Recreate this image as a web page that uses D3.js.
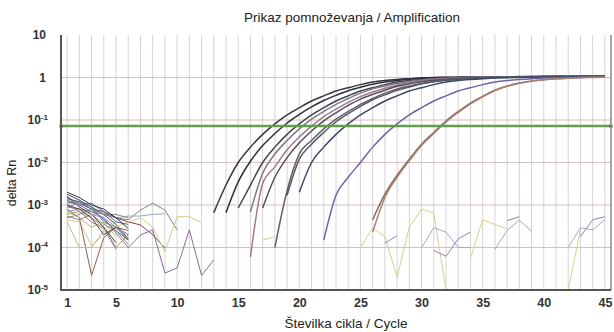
<!DOCTYPE html>
<html>
<head>
<meta charset="utf-8">
<script src="https://cdn.jsdelivr.net/npm/d3@7"></script>
<style>
  html, body { margin: 0; padding: 0; background: #fff; }
  svg { display: block; font-family: "Liberation Sans", Arial, sans-serif; }
</style>
</head>
<body>
<svg id="chart" width="614" height="332"></svg>
<script>
// ---- Data -------------------------------------------------------------
const title = "Prikaz pomnoževanja / Amplification";
const xTitle = "Številka cikla / Cycle";
const yTitle = "delta Rn";

const xTickValues = [1, 5, 10, 15, 20, 25, 30, 35, 40, 45];
const yTickValues = [1e-5, 1e-4, 1e-3, 1e-2, 1e-1, 1, 10];
const yTickExponents = [-5, -4, -3, -2, -1, 0, 1];
const threshold = 0.072;

// Amplification curves: first cycle and delta Rn per cycle
const ampAStart = 13;
const ampA = [6.6e-4, 2.95e-3, 0.010, 0.023, 0.046, 0.081, 0.132, 0.195, 0.28, 0.37, 0.48, 0.575, 0.68, 0.78, 0.85, 0.90, 0.94, 0.98, 1.0, 1.01, 1.02, 1.03, 1.03, 1.04, 1.04, 1.05, 1.05, 1.06, 1.06, 1.07, 1.07, 1.08, 1.08];
const ampBStart = 14;
const ampB = [6.6e-4, 3.5e-3, 0.0107, 0.025, 0.048, 0.085, 0.135, 0.204, 0.288, 0.38, 0.49, 0.59, 0.69, 0.78, 0.85, 0.91, 0.955, 0.99, 1.0, 1.01, 1.02, 1.03, 1.03, 1.04, 1.04, 1.05, 1.05, 1.06, 1.06, 1.07, 1.07, 1.08];
const ampCStart = 15;
const ampC = [8.5e-4, 2.95e-3, 0.010, 0.023, 0.046, 0.081, 0.132, 0.195, 0.28, 0.37, 0.48, 0.575, 0.68, 0.78, 0.85, 0.90, 0.94, 0.97, 0.99, 1.0, 1.01, 1.02, 1.03, 1.03, 1.04, 1.05, 1.05, 1.06, 1.06, 1.07, 1.08];
const ampDStart = 16;
const ampD = [6.9e-4, 5.6e-3, 0.0158, 0.033, 0.062, 0.105, 0.158, 0.234, 0.32, 0.43, 0.54, 0.63, 0.72, 0.81, 0.87, 0.92, 0.955, 0.98, 1.0, 1.01, 1.02, 1.03, 1.04, 1.04, 1.05, 1.05, 1.06, 1.06, 1.07, 1.08];
const ampEStart = 16;
const ampE = [6e-5, 3.2e-3, 7.9e-3, 0.02, 0.04, 0.072, 0.12, 0.18, 0.26, 0.355, 0.457, 0.56, 0.66, 0.76, 0.83, 0.89, 0.93, 0.98, 1.0, 1.01, 1.02, 1.03, 1.04, 1.04, 1.05, 1.05, 1.06, 1.06, 1.07, 1.08];
const ampFStart = 17;
const ampF = [8.5e-4, 4.5e-3, 0.013, 0.029, 0.055, 0.095, 0.148, 0.22, 0.31, 0.40, 0.50, 0.62, 0.71, 0.79, 0.86, 0.91, 0.955, 0.98, 1.0, 1.01, 1.02, 1.03, 1.04, 1.05, 1.05, 1.06, 1.06, 1.07, 1.08];
const ampGStart = 18;
const ampG = [1.0e-4, 2.2e-3, 0.016, 0.033, 0.062, 0.105, 0.158, 0.234, 0.32, 0.43, 0.54, 0.63, 0.72, 0.81, 0.87, 0.92, 0.955, 0.98, 1.0, 1.01, 1.02, 1.03, 1.04, 1.05, 1.05, 1.06, 1.07, 1.08];
const ampHStart = 19;
const ampH = [1.7e-3, 0.012, 0.027, 0.051, 0.091, 0.141, 0.21, 0.30, 0.39, 0.50, 0.60, 0.71, 0.79, 0.86, 0.91, 0.955, 0.98, 1.0, 1.01, 1.02, 1.03, 1.04, 1.05, 1.05, 1.06, 1.07, 1.08];
const ampIStart = 20;
const ampI = [2.0e-3, 0.01, 0.023, 0.046, 0.081, 0.132, 0.195, 0.28, 0.37, 0.48, 0.575, 0.68, 0.78, 0.85, 0.90, 0.94, 0.97, 0.99, 1.0, 1.01, 1.02, 1.03, 1.04, 1.05, 1.06, 1.07];
const ampJStart = 22;
const ampJ = [1.5e-4, 1.7e-3, 4.5e-3, 0.01, 0.023, 0.046, 0.081, 0.132, 0.195, 0.28, 0.37, 0.48, 0.575, 0.68, 0.78, 0.85, 0.90, 0.94, 0.97, 0.99, 1.0, 1.01, 1.02, 1.03];
const ampKStart = 26;
const ampK = [4.5e-4, 1.8e-3, 5e-3, 0.012, 0.027, 0.051, 0.095, 0.158, 0.25, 0.36, 0.5, 0.63, 0.74, 0.83, 0.89, 0.93, 0.966, 1.0, 1.02, 1.04];
const ampLStart = 26;
const ampL = [2.3e-4, 1.5e-3, 4.5e-3, 0.011, 0.025, 0.048, 0.09, 0.15, 0.24, 0.35, 0.49, 0.62, 0.73, 0.82, 0.88, 0.93, 0.96, 0.99, 1.0, 1.01];

// Baseline noise in the early cycles (all start at cycle 1)
const noise1 = [1.8e-3, 1.3e-3, 9e-4, 6e-4, 3.5e-4, 1.6e-4];
const noise2 = [1.2e-3, 1.0e-3, 7e-4, 5e-4, 2.2e-4, 1.0e-4, 1.96e-4, 2.6e-4, 2.5e-5, 3.3e-5, 2.6e-4, 2.2e-5, 5.1e-5];
const noise3 = [9e-4, 8e-4, 7e-4, 6e-4, 5e-4, 4.5e-4, 7.6e-4, 1.1e-3, 7.6e-4, 2.6e-4];
const noise4 = [7e-4, 8e-4, 6e-4, 6.5e-4, 5e-4, 5.5e-4, 5.5e-4, 6e-4, 6.2e-4];
const noise5 = [1.5e-3, 1.1e-3, 8e-4, 7e-4, 5e-4, 4e-4, 3.4e-4, 2e-4, 9.7e-5];
const noise6 = [4.5e-4, 4e-4, 1.1e-4, 2e-4, 3e-4, 4e-4, 5e-4, 3e-4, 8e-5, 5.3e-4, 5.3e-4, 3.9e-4];
const noise7 = [8e-4, 5e-4, 2.2e-5, 1.7e-4, 3e-4, 2.5e-4];
const noise8 = [6e-4, 7e-4, 5e-4, 3e-4, 1.0e-4, 2e-4];
const noise9 = [1.4e-3, 1.2e-3, 9e-4, 4e-4, 3e-4, 2e-4];
const noise10 = [1.6e-3, 9e-4, 6e-4, 3e-4, 1.3e-4];
const noise11 = [1.1e-3, 1.2e-3, 8e-4, 4.5e-4, 2.5e-4, 1.5e-4];
const noise12 = [5e-4, 6e-4, 8e-4, 6e-4, 6e-4, 5e-4];
const noise13 = [1.0e-3, 7e-4, 4e-4, 2.8e-4, 9e-5];
const noise14 = [1.3e-3, 1.0e-3, 1.1e-3, 7e-4, 4e-4, 3.5e-4];
const noise15 = [7e-4, 5e-4, 3e-4, 4e-4, 1.8e-4];
const noise16 = [2.0e-3, 1.5e-3, 1.0e-3, 8e-4, 5e-4, 2.8e-4];
const noise17 = [5.5e-4, 4.5e-4, 6e-4, 3.5e-4, 2.5e-4, 1.2e-4];
const noise18 = [9e-4, 1.1e-3, 6e-4, 5e-4, 3e-4, 2e-4];
const noise19 = [4e-4, 1.0e-4, 1.0e-4, 2.5e-4, 4e-4];
const noise20 = [1.0e-3, 8e-4, 5e-4, 2e-4, 3e-4, 1.5e-4];

// Late noise fragments of the negative wells (first cycle, values)
const lateY1Start = 17, lateY1 = [1.5e-4, 1.8e-4];
const lateY2Start = 25, lateY2 = [1.0e-4, 2.9e-4, 1.8e-4, 2e-5, 3e-4, 8e-4, 6.5e-4, 1e-5];
const lateP1Start = 27, lateP1 = [1.26e-4, 1.9e-4];
const lateB1Start = 30, lateB1 = [1.0e-4, 2.9e-4, 2.3e-4, 1.0e-4, 1.0e-4];
const lateP2Start = 31, lateP2 = [8.5e-5, 6.2e-5, 1.6e-4, 2.3e-4];
const lateY3Start = 34, lateY3 = [5.6e-5, 4.5e-4, 3.5e-4, 2.7e-4];
const lateB2Start = 36, lateB2 = [9e-5, 2.5e-4, 4.4e-4, 2.4e-4];
const lateP3Start = 37, lateP3 = [4.3e-4, 5.3e-4];
const lateB3Start = 42, lateB3 = [1.0e-4, 2.9e-4, 2.6e-4, 4.5e-4];
const lateP4Start = 43, lateP4 = [1.8e-4, 4.5e-4, 5.3e-4];
const lateY4Start = 42, lateY4 = [1e-5, 2.6e-4];

// ---- Series table (data + drawing style) -------------------------------
const toPoints = (start, vals) => vals.map((v, i) => ({ cycle: start + i, value: v }));

const noiseSeries = [
  [noise1, "#3b4470"], [noise2, "#8a6a9c"], [noise3, "#8f7d80"], [noise4, "#8fb0c8"],
  [noise5, "#7a4a5a"], [noise6, "#d2cc88"], [noise7, "#8a6048"], [noise8, "#9a9a60"],
  [noise9, "#4a7a80"], [noise10, "#404048"], [noise11, "#5a78a8"], [noise12, "#7a907a"],
  [noise13, "#9a7a9a"], [noise14, "#607088"], [noise15, "#c0b878"], [noise16, "#2a3050"],
  [noise17, "#a08090"], [noise18, "#a090c0"], [noise19, "#b8c080"], [noise20, "#5a4a40"]
].map(([vals, color]) => ({ points: toPoints(1, vals), color }));

const lateSeries = [
  [lateY1Start, lateY1, "#d2cc88"], [lateY2Start, lateY2, "#d6d08c"],
  [lateP1Start, lateP1, "#9a84b8"], [lateB1Start, lateB1, "#a2a8c8"],
  [lateP2Start, lateP2, "#9a7cb0"], [lateY3Start, lateY3, "#d6d08c"],
  [lateB2Start, lateB2, "#a2a8c8"], [lateP3Start, lateP3, "#9a7cb0"],
  [lateB3Start, lateB3, "#a2a8c8"], [lateP4Start, lateP4, "#9a7cb0"],
  [lateY4Start, lateY4, "#d6d08c"]
].map(([s, vals, color]) => ({ points: toPoints(s, vals), color }));

const ampSeries = [
  [ampAStart, ampA, "#363640"], [ampBStart, ampB, "#2c3038"], [ampCStart, ampC, "#44444f"],
  [ampDStart, ampD, "#7a7a84"], [ampEStart, ampE, "#a07a90"], [ampFStart, ampF, "#55505c"],
  [ampGStart, ampG, "#66606c"], [ampHStart, ampH, "#535a66"], [ampIStart, ampI, "#3a4866"],
  [ampJStart, ampJ, "#6a66a4"], [ampKStart, ampK, "#86695a"], [ampLStart, ampL, "#a48476"]
].map(([s, vals, color]) => ({ points: toPoints(s, vals), color }));

// ---- Scales -----------------------------------------------------------
const svg = d3.select("#chart");
const plot = { left: 61, right: 611, top: 35, bottom: 290 };

const x = d3.scaleLinear().domain([0.5, 45.5]).range([plot.left, plot.right]);
const y = d3.scaleLog().domain([1e-5, 10]).range([plot.bottom, plot.top]);

svg.append("defs").append("clipPath").attr("id", "plotClip")
  .append("rect")
  .attr("x", plot.left).attr("y", plot.top)
  .attr("width", plot.right - plot.left).attr("height", plot.bottom - plot.top + 1);

// ---- Grid -------------------------------------------------------------
const grid = svg.append("g");
grid.selectAll("line.v").data(d3.range(1, 46)).join("line")
  .attr("x1", d => x(d)).attr("x2", d => x(d))
  .attr("y1", y(10)).attr("y2", y(1e-5))
  .attr("stroke", "#dbd0d5").attr("stroke-width", 1);
grid.selectAll("line.h").data(yTickValues.filter(v => v > 1e-5 && v < 10)).join("line")
  .attr("x1", plot.left).attr("x2", plot.right)
  .attr("y1", d => y(d)).attr("y2", d => y(d))
  .attr("stroke", "#d3c0c0").attr("stroke-width", 1);

// ---- Curves -----------------------------------------------------------
const lineStraight = d3.line().x(d => x(d.cycle)).y(d => y(d.value));
const lineSmooth = d3.line().x(d => x(d.cycle)).y(d => y(d.value)).curve(d3.curveMonotoneX);

const curves = svg.append("g").attr("clip-path", "url(#plotClip)");
curves.selectAll("path.noise").data(noiseSeries.concat(lateSeries)).join("path")
  .attr("fill", "none").attr("stroke", d => d.color).attr("stroke-width", 1)
  .attr("stroke-linejoin", "round")
  .attr("d", d => lineStraight(d.points));
curves.selectAll("path.amp").data(ampSeries).join("path")
  .attr("fill", "none").attr("stroke", d => d.color).attr("stroke-width", 1.5)
  .attr("d", d => lineSmooth(d.points));

// ---- Threshold --------------------------------------------------------
svg.append("line")
  .attr("x1", plot.left).attr("x2", plot.right)
  .attr("y1", y(threshold)).attr("y2", y(threshold))
  .attr("stroke", "#5f9e4a").attr("stroke-width", 2.4);
svg.selectAll("rect.handle").data([plot.left, plot.right]).join("rect")
  .attr("x", d => d - 1.5).attr("y", y(threshold) - 1.5)
  .attr("width", 3).attr("height", 3).attr("fill", "#3f5a3a");

// ---- Axes -------------------------------------------------------------
svg.append("line").attr("x1", plot.right).attr("x2", plot.right)
  .attr("y1", plot.top).attr("y2", plot.bottom)
  .attr("stroke", "#8a8a8a").attr("stroke-width", 1.5);
svg.append("line").attr("x1", plot.left).attr("x2", plot.left)
  .attr("y1", plot.top).attr("y2", plot.bottom + 1)
  .attr("stroke", "#555").attr("stroke-width", 2);
svg.append("line").attr("x1", plot.left).attr("x2", plot.right)
  .attr("y1", plot.bottom).attr("y2", plot.bottom)
  .attr("stroke", "#555").attr("stroke-width", 2);

const xAxis = svg.append("g").attr("transform", `translate(0,${plot.bottom + 6})`)
  .call(d3.axisBottom(x).tickValues(xTickValues).tickSize(0).tickPadding(2));
xAxis.select(".domain").remove();
xAxis.selectAll("text")
  .attr("font-size", 12.5).attr("font-weight", "bold").attr("fill", "#333")
  .attr("font-family", "Liberation Sans, Arial, sans-serif");

const yAxis = svg.append("g").attr("transform", `translate(${plot.left - 13},0)`)
  .call(d3.axisLeft(y).tickValues(yTickValues).tickSize(0).tickPadding(0).tickFormat(() => ""));
yAxis.select(".domain").remove();
yAxis.selectAll(".tick text")
  .attr("font-size", 12).attr("font-weight", "bold").attr("fill", "#333")
  .attr("font-family", "Liberation Sans, Arial, sans-serif")
  .each(function (d) {
    const t = d3.select(this);
    const e = yTickExponents[yTickValues.indexOf(d)];
    if (e === 0) { t.text("1"); return; }
    if (e === 1) { t.text("10"); return; }
    t.append("tspan").text("10");
    t.append("tspan").text(String(e))
      .attr("font-size", 8).attr("dy", -4.5);
  })
  .attr("x", function (d) {
    const e = yTickExponents[yTickValues.indexOf(d)];
    return (e === 0 || e === 1) ? -2 : 0;
  });

// ---- Titles -----------------------------------------------------------
svg.append("text").attr("x", 352).attr("y", 22).attr("text-anchor", "middle")
  .attr("font-size", 13.5).attr("fill", "#222").text(title);
svg.append("text").attr("x", 346).attr("y", 328).attr("text-anchor", "middle")
  .attr("font-size", 13.5).attr("fill", "#222").text(xTitle);
svg.append("text").attr("transform", "translate(16,183) rotate(-90)")
  .attr("text-anchor", "middle").attr("font-size", 12.5).attr("fill", "#222").text(yTitle);
</script>
</body>
</html>
